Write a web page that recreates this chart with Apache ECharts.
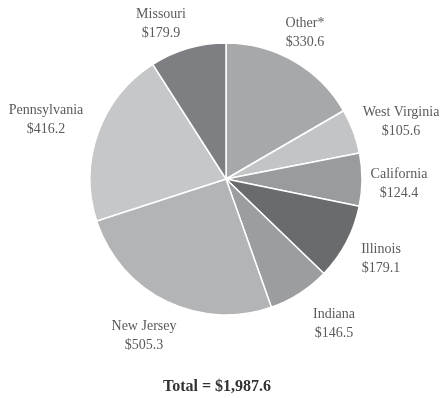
<!DOCTYPE html>
<html>
<head>
<meta charset="utf-8">
<script src="https://cdn.jsdelivr.net/npm/echarts@6/dist/echarts.min.js"></script>
<style>
  html, body { margin: 0; padding: 0; background: #fff; }
  #chart { width: 443px; height: 398px; }
</style>
</head>
<body>
<div id="chart"></div>
<script>
// Spending by state, in millions of dollars (clockwise from 12 o'clock)
const states = ['Other*', 'West Virginia', 'California', 'Illinois', 'Indiana', 'New Jersey', 'Pennsylvania', 'Missouri'];
const amounts = [330.6, 105.6, 124.4, 179.1, 146.5, 505.3, 416.2, 179.9];
const sliceColors = ['#a7a8aa', '#c3c4c6', '#9a9b9d', '#6a6b6d', '#9c9d9f', '#b3b4b6', '#c6c7c9', '#7e7f82'];
const totalText = 'Total = $1,987.6';

// Label anchor points (text block centres) placed around the pie
const labelSpots = [
  [305, 33], [401, 122], [399, 184], [381, 259],
  [334, 324], [144, 336], [46, 120], [161, 24]
];

const chart = echarts.init(document.getElementById('chart'), null, { renderer: 'canvas' });

chart.setOption({
  animation: false,
  title: {
    text: totalText,
    left: 212,
    top: 374,
    textAlign: 'center',
    textStyle: {
      fontFamily: '"Liberation Serif", "DejaVu Serif", serif',
      fontWeight: 'bold',
      fontSize: 16,
      color: '#333'
    }
  },
  series: [{
    type: 'pie',
    center: [226, 179],
    radius: [0, 136],
    startAngle: 90,
    clockwise: true,
    avoidLabelOverlap: false,
    data: states.map((name, i) => ({
      name: name,
      value: amounts[i],
      itemStyle: { color: sliceColors[i] }
    })),
    itemStyle: { borderColor: '#ffffff', borderWidth: 1.5 },
    label: {
      show: true,
      position: 'outside',
      formatter: p => p.name + '\n$' + p.value.toFixed(1),
      fontFamily: '"Liberation Serif", "DejaVu Serif", serif',
      fontSize: 14,
      lineHeight: 19,
      color: '#5a5a5a',
      align: 'center'
    },
    labelLine: { show: false },
    labelLayout: function (params) {
      const spot = labelSpots[params.dataIndex];
      return { x: spot[0], y: spot[1], align: 'center', verticalAlign: 'middle' };
    },
    emphasis: { disabled: true }
  }]
});
</script>
</body>
</html>
